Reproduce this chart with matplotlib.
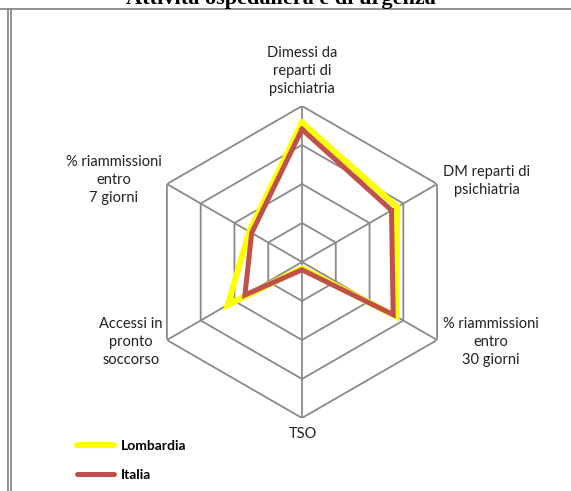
import numpy as np
import matplotlib
matplotlib.use("Agg")
import matplotlib.pyplot as plt
from matplotlib.lines import Line2D

# Data (scale 0-4, one unit per ring)
categories = ["Dimessi da\nreparti di\npsichiatria", "DM reparti di\npsichiatria",
              "% riammissioni\nentro\n30 giorni", "TSO",
              "Accessi in\npronto\nsoccorso", "% riammissioni\nentro\n7 giorni"]
lombardia = [3.57, 2.82, 2.80, 0.16, 2.20, 1.56]
italia = [3.40, 2.65, 2.70, 0.20, 1.69, 1.49]
rings = [1, 2, 3, 4]
title = "Attività ospedaliera e di urgenza"

W, H = 571, 491
fig = plt.figure(figsize=(W / 100, H / 100), dpi=100)
fig.patch.set_facecolor("white")

# polar axes centred at (302, 262) px with outer radius 156 px
cx, cy, R = 302, 262, 156
ax = fig.add_axes([(cx - R) / W, (H - cy - R) / H, 2 * R / W, 2 * R / H], projection="polar")
ax.set_theta_offset(np.pi / 2)
ax.set_theta_direction(-1)
ax.set_ylim(0, rings[-1])
ax.grid(False)
ax.spines["polar"].set_visible(False)
ax.set_xticks([])
ax.set_yticks([])
ax.patch.set_alpha(0)

n = len(categories)
angles = np.linspace(0, 2 * np.pi, n, endpoint=False)
closed = np.append(angles, angles[0])

grid_col = "#8a8a8a"
for r in rings:
    ax.plot(closed, [r] * (n + 1), color=grid_col, lw=1.3, zorder=1)
for a in angles:
    ax.plot([a, a], [0, rings[-1]], color=grid_col, lw=1.3, zorder=1)

l1, = ax.plot(closed, lombardia + lombardia[:1], color="#ffff00", lw=4.4, zorder=3,
              solid_joinstyle="miter", label="Lombardia")
l2, = ax.plot(closed, italia + italia[:1], color="#c0504d", lw=3.6, zorder=4,
              solid_joinstyle="miter", label="Italia")
for ln in (l1, l2):
    ln.set_clip_on(False)

# category labels, positioned around the hexagon
label_pos = [(302, 71), (487, 181), (491, 342), (303, 434), (131, 342), (114, 180)]
for txt, (x, y) in zip(categories, label_pos):
    fig.text(x / W, 1 - y / H, txt, ha="center", va="center", fontsize=10.5,
             family="Lato", color="#222222", linespacing=1.4)

# legend in lower-left corner
leg = fig.legend(handles=[l1, l2], loc="upper left", bbox_to_anchor=(70 / W, 1 - 433 / H),
                 frameon=False, prop={"family": "Lato", "weight": "bold", "size": 10},
                 handlelength=2.7, handletextpad=0.45, labelspacing=1.25, borderpad=0)
for h in leg.get_lines():
    h.set_solid_capstyle("round")

# title, cut off by the top edge as in the reference
fig.text(0.5 - 5 / W, 1 - 4 / H, title, ha="center", va="baseline", fontsize=16,
         family="Liberation Serif", weight="bold", color="black")

# frame lines (top, double left)
frame = "#8a8a8a"
fig.add_artist(Line2D([0, 1], [1 - 8.5 / H] * 2, color=frame, lw=1.3, transform=fig.transFigure))
fig.add_artist(Line2D([8 / W] * 2, [0, 1 - 8.5 / H], color=frame, lw=1.3, transform=fig.transFigure))
fig.add_artist(Line2D([11 / W] * 2, [0, 1 - 8.5 / H], color=frame, lw=1.3, transform=fig.transFigure))

fig.savefig("out.png", dpi=100, facecolor="white")
